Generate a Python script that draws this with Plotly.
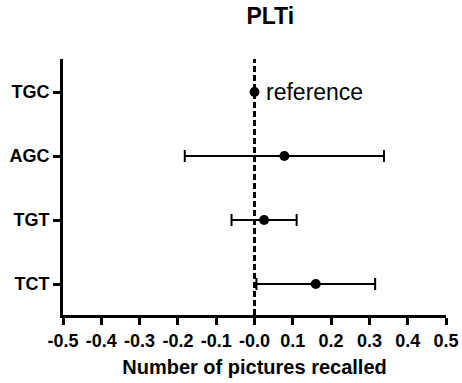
import plotly.graph_objects as go

categories = ["TCT", "TGT", "AGC", "TGC"]
means = [0.16, 0.025, 0.078, 0.0]
errors = [0.155, 0.085, 0.26, 0.0]
tick_vals = [-0.5, -0.4, -0.3, -0.2, -0.1, 0.0, 0.1, 0.2, 0.3, 0.4, 0.5]
tick_text = ["-0.5", "-0.4", "-0.3", "-0.2", "-0.1", "-0.0", "0.1", "0.2", "0.3", "0.4", "0.5"]

FONT = "Liberation Sans, Arial, Helvetica, sans-serif"
ypos = list(range(len(categories)))

fig = go.Figure()
fig.add_shape(type="line", xref="x", yref="paper", x0=0, x1=0, y0=0, y1=1,
              line=dict(color="black", width=3, dash="6px,3px"), layer="below")
fig.add_trace(go.Scatter(
    x=means, y=ypos, mode="markers",
    marker=dict(color="black", size=10),
    error_x=dict(type="data", array=errors, visible=True, color="black", thickness=2, width=6),
    showlegend=False, cliponaxis=False,
))

fig.add_annotation(x=0, y=3, xref="x", yref="y", text="reference", showarrow=False,
                   xanchor="left", yanchor="middle", xshift=9,
                   font=dict(family=FONT, size=23, color="black"))

fig.update_layout(
    width=462, height=383,
    margin=dict(l=63, r=16, t=59, b=68, autoexpand=False),
    paper_bgcolor="white", plot_bgcolor="white",
    title=dict(text="<b>PLTi</b>", x=250 / 462, xanchor="center", xref="paper",
               y=1 - 16 / 383, yref="container", yanchor="middle",
               font=dict(family=FONT, size=23, color="black")),
    font=dict(family=FONT, color="black"),
)
fig.update_xaxes(
    range=[-0.5, 0.5], tickvals=tick_vals, ticktext=[f"<b>{t}</b>" for t in tick_text],
    showline=True, linecolor="black", linewidth=3, ticks="outside", ticklen=7, tickwidth=3,
    tickcolor="black", showgrid=False, zeroline=False, automargin=False,
    tickfont=dict(size=18, family=FONT, color="black"),
    title=dict(text="<b>Number of pictures recalled</b>", standoff=11,
               font=dict(size=20, family=FONT, color="black")),
)
fig.update_yaxes(
    range=[-0.484, 3.516], tickvals=ypos, ticktext=[f"<b>{c}</b>" for c in categories],
    showline=True, linecolor="black", linewidth=3, ticks="outside", ticklen=7, tickwidth=3,
    tickcolor="black", showgrid=False, zeroline=False, automargin=False,
    tickfont=dict(size=18, family=FONT, color="black"),
)

fig.write_html("out.html", config={"displayModeBar": False},
               post_script="document.body.style.margin='0';")
